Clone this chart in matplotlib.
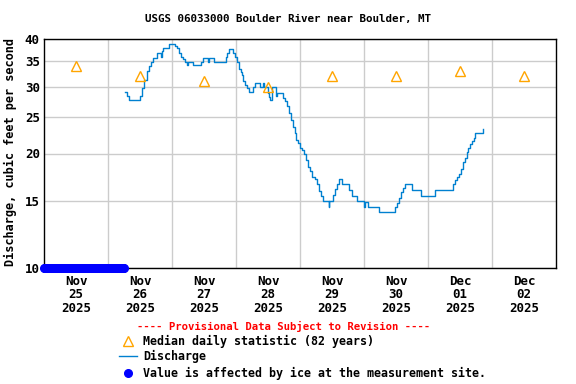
import numpy as np
import pandas as pd
import matplotlib
matplotlib.use("Agg")
import matplotlib.pyplot as plt
from matplotlib.lines import Line2D

# ---------------- data ----------------
start = pd.Timestamp("2025-11-25 00:00")

# discharge change points: hours after Nov 25 00:00, value in cfs (step series)
q_hours = [30.5, 31.2, 32.0, 35.5, 36.0, 36.75, 37.5, 38.5, 39.25, 40.25, 40.75,
           42.25, 43.75, 44.25, 44.75, 47.0, 49.0, 49.75, 50.5, 51.25, 52.25, 53.0,
           53.5, 54.0, 56.0, 59.0, 59.5, 61.5, 62.0, 63.75, 68.25, 68.75, 69.25,
           70.75, 71.75, 72.25, 73.0, 73.75, 74.25, 74.75, 75.5, 76.25, 76.75,
           78.25, 79.25, 81.0, 82.0, 82.5, 84.0, 84.5, 84.75, 85.5, 87.0, 87.5,
           89.75, 90.25, 91.0, 91.75, 92.5, 93.25, 94.0, 94.5, 95.25, 96.0, 96.75,
           97.5, 98.25, 99.0, 99.75, 100.5, 101.5, 102.25, 103.0, 103.75, 104.5,
           106.75, 107.0, 108.5, 109.25, 110.0, 110.75, 111.75, 114.25, 115.5,
           117.25, 120.0, 120.5, 121.5, 125.5, 131.5, 132.25, 133.0, 134.0, 134.75,
           135.5, 138.0, 141.25, 146.75, 153.5, 154.25, 154.75, 155.5, 156.25,
           157.0, 157.75, 158.5, 159.0, 159.75, 160.5, 161.25, 161.75, 164.75]
q_values = [29.0, 28.4, 27.7, 27.7, 28.4, 29.8, 31.3, 32.9, 33.9, 34.8, 35.7,
            36.8, 35.9, 37.1, 37.9, 38.8, 38.3, 37.9, 36.8, 35.9, 35.5, 34.8,
            34.2, 34.8, 34.2, 34.9, 35.7, 34.9, 35.7, 34.9, 35.9, 36.8, 37.7,
            36.8, 35.9, 34.9, 33.4, 32.8, 32.2, 31.0, 30.3, 29.8, 29.0,
            29.9, 30.6, 29.9, 30.6, 29.9, 28.9, 28.2, 27.6, 29.9, 28.3, 28.9,
            28.0, 27.5, 26.6, 25.5, 24.5, 23.5, 22.6, 21.7, 21.3, 20.7, 20.4,
            20.0, 19.2, 18.4, 18.0, 17.4, 17.1, 16.6, 15.9, 15.5, 15.0,
            14.5, 15.0, 15.6, 16.1, 16.6, 17.1, 16.6, 16.0, 15.5,
            15.0, 14.5, 14.9, 14.5, 14.0, 14.5, 14.8, 15.3, 15.8, 16.2,
            16.6, 16.0, 15.5, 16.0, 16.6, 17.0, 17.3, 17.7, 18.2,
            19.0, 19.5, 20.2, 20.7, 21.2, 21.6, 22.0, 22.6, 23.2]

# median daily statistic (82 years), one per day at noon
median_days = ["2025-11-25", "2025-11-26", "2025-11-27", "2025-11-28",
               "2025-11-29", "2025-11-30", "2025-12-01", "2025-12-02"]
median_values = [34, 32, 31, 30, 32, 32, 33, 32]

# ice-affected period (15-minute values, plotted at axis floor)
ice_start = "2025-11-25 00:00"
ice_end = "2025-11-26 06:00"
ice_value = 10

tick_labels = ["Nov\n25\n2025", "Nov\n26\n2025", "Nov\n27\n2025", "Nov\n28\n2025",
               "Nov\n29\n2025", "Nov\n30\n2025", "Dec\n01\n2025", "Dec\n02\n2025"]
y_ticks = [10, 15, 20, 25, 30, 35, 40]

# ---------------- plot ----------------
FONT = "DejaVu Sans Mono"
fig = plt.figure(figsize=(5.76, 3.84), dpi=100)
ax = fig.add_axes([44/576, 1-268/384, 512/576, 229/384])

q_times = start + pd.to_timedelta(q_hours, unit="h")
ax.plot(q_times, q_values, drawstyle="steps-post", color="#0080D0", lw=1.0, zorder=3)

med_times = pd.to_datetime(median_days) + pd.Timedelta(hours=12)
ax.plot(med_times, median_values, linestyle="none", marker="^", markersize=7,
        markerfacecolor="none", markeredgecolor="#FFA500", mew=1.0, zorder=4)

ice_times = pd.date_range(ice_start, ice_end, freq="15min")
ax.plot(ice_times, [ice_value]*len(ice_times), linestyle="none", marker="o",
        markersize=5.5, color="#0000FF", clip_on=False, zorder=5)

ax.set_yscale("log")
ax.set_ylim(10, 40)
ax.set_yticks(y_ticks)
ax.set_yticklabels([str(v) for v in y_ticks], fontfamily=FONT, fontweight="bold", fontsize=9)
ax.yaxis.set_minor_locator(matplotlib.ticker.NullLocator())
ax.tick_params(axis="y", length=0, pad=3)

ax.set_xlim(start, start + pd.Timedelta(days=8))
major = [start + pd.Timedelta(days=d) for d in range(1, 8)]
minor = [start + pd.Timedelta(hours=12 + 24*d) for d in range(8)]
ax.set_xticks(major)
ax.set_xticklabels([""]*len(major))
ax.set_xticks(minor, minor=True)
ax.set_xticklabels(tick_labels, minor=True, fontfamily=FONT, fontweight="bold",
                   fontsize=9, linespacing=1.05)
ax.tick_params(axis="x", which="both", length=0, pad=5)

ax.grid(True, which="major", color="#CCCCCC", lw=1.0)
ax.set_axisbelow(True)
for s in ax.spines.values():
    s.set_color("black")
    s.set_linewidth(1.0)

ax.set_ylabel("Discharge, cubic feet per second", fontfamily=FONT, fontweight="bold",
              fontsize=8.6)
ax.yaxis.set_label_coords(-0.052, 0.505)

fig.text(288/576, 1-19/384, "USGS 06033000 Boulder River near Boulder, MT",
         ha="center", va="center", fontfamily=FONT, fontweight="bold", fontsize=7.8)

fig.text(284/576, 1-326/384, "---- Provisional Data Subject to Revision ----",
         ha="center", va="center", fontfamily=FONT, fontweight="bold", fontsize=7.7,
         color="#FF0000")

# legend entries
ly = [341, 356, 373]
fig.add_artist(Line2D([128/576], [1-ly[0]/384], marker="^", markersize=7, linestyle="none",
                      markerfacecolor="none", markeredgecolor="#FFA500", mew=1.0,
                      transform=fig.transFigure))
fig.add_artist(Line2D([119/576, 137/576], [1-ly[1]/384]*2, color="#0080D0", lw=1.0,
                      transform=fig.transFigure))
fig.add_artist(Line2D([128/576], [1-ly[2]/384], marker="o", markersize=5.5, linestyle="none",
                      color="#0000FF", transform=fig.transFigure))
legend_texts = ["Median daily statistic (82 years)", "Discharge",
                "Value is affected by ice at the measurement site."]
for y, t in zip(ly, legend_texts):
    fig.text(143/576, 1-y/384, t, ha="left", va="center", fontfamily=FONT,
             fontweight="bold", fontsize=8.4)

fig.savefig("out.png", dpi=100)
